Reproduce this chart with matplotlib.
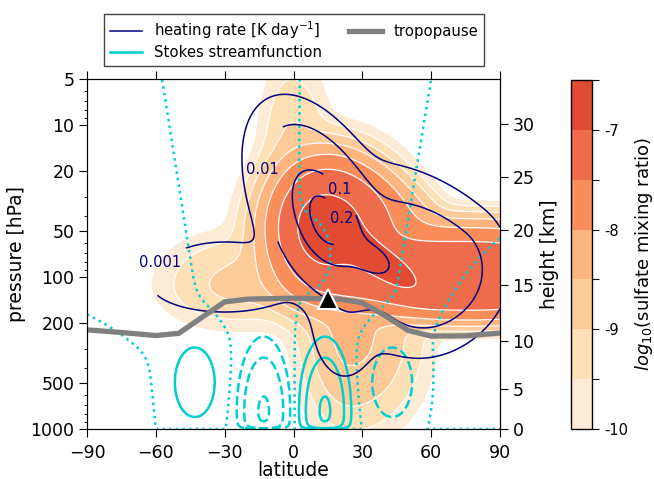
import numpy as np
import matplotlib
matplotlib.use("Agg")
import matplotlib.pyplot as plt
from matplotlib.lines import Line2D

# ---------------- axes / tick data ----------------
lat_ticks = [-90, -60, -30, 0, 30, 60, 90]
p_ticks = [5, 10, 20, 50, 100, 200, 500, 1000]
height_km = [0, 5, 10, 15, 20, 25, 30]
height_p = [1000, 546, 264, 113, 49, 22, 9.9]

# ---------------- sulfate (log10 mixing ratio) ----------------
sulfate_levels = [-10, -9.5, -9, -8.5, -8, -7.5, -7, -6.5]
sulfate_colors = ['#fdebd5', '#fde0b6', '#fdcb98', '#fdb47f', '#fa8e5b', '#ee6b4c', '#e14b34']
# blobs: centre lat, centre p [hPa], peak log10, widths (left,right,down,up) [eq. deg],
# rotation [deg], shape exponent
sulf_lat = [35.5, 13.7, 18.1, 77.0, -0.6, -25.5, 25.0]
sulf_p = [75, 50, 33.7, 108, 12.6, 113, 250]
sulf_peak = [-6.8, -6.8, -7.6, -7.15, -9.0, -8.9, -8.4]
sulf_wl = [12.0, 11.0, 16.0, 43.6, 7.0, 16.0, 10.0]
sulf_wr = [12.0, 13.0, 30.0, 43.6, 8.0, 15.0, 14.0]
sulf_wd = [4.0, 13.0, 16.0, 10.5, 17.4, 9.0, 18.0]
sulf_wu = [4.0, 13.0, 14.0, 15.0, 17.4, 10.9, 10.0]
sulf_rot = [-35, 0, -25, 0, 0, 0, 0]
sulf_q = [2, 2, 3, 3, 2, 2, 2]

# ---------------- heating rate [K/day] ----------------
heating_levels = [0.001, 0.01, 0.1, 0.2]
heat_lat = [14.6, 35.0, 60.0, -30.0, 22.4]
heat_p = [43.6, 78, 95, 110, 193]
heat_peak = [0.25, 0.11, 0.05, 0.005, 0.005]
heat_wl = [9.0, 7.0, 22.0, 18.0, 7.8]
heat_wr = [9.0, 7.0, 12.0, 18.0, 7.8]
heat_wd = [14.5, 4.5, 14.0, 7.0, 13.5]
heat_wu = [18.0, 4.5, 13.0, 10.0, 8.7]
heat_rot = [25, -35, -40, 0, 0]
heat_q = [2, 2, 2, 2, 2]
heat_label_lat = [-57, -14.6, 20.3, 20.3]
heat_label_p = [96, 17, 22.4, 49]

# ---------------- Stokes streamfunction ----------------
stokes_neg_levels = [-16, -4, -1]
stokes_zero_levels = [0]
stokes_pos_levels = [1, 4, 16]
cell_lat = [-43, -13, 13.7, 43, -90, 90, -80, -25, 30, 80, 10]
cell_p = [494, 767, 767, 494, 620, 500, 14.4, 14.4, 14.4, 14.4, 65]
cell_amp = [2.5, -18, 18, -2.5, -0.5, 0.8, 0.4, -0.4, 0.4, -0.4, -0.25]
cell_wlat = [6.4, 4.9, 4.8, 6.4, 12.7, 12.7, 15.6, 15.6, 15.6, 15.6, 6.0]
cell_wz = [11.2, 13.5, 13.5, 11.2, 12.0, 30.0, 37.7, 37.7, 37.7, 37.7, 10.0]
cell_stretch = [0, 0, 0, 0, 0, 0, 0.003, 0.003, 0.003, 0.003, 0]

# ---------------- tropopause & eruption ----------------
trop_lat = [-90, -75, -60, -50, -40, -30, -20, 0, 20, 30, 40, 50, 60, 75, 90]
trop_p = [223, 232, 243, 235, 185, 146, 140, 138, 140, 148, 180, 225, 245, 244, 234]
erupt_lat = [15.1]
erupt_p = [140]

# ---------------- grid ----------------
EQ = (350.0 / 413.0) * 180.0 / np.log10(200.0)   # eq. degrees per decade of pressure
lat = np.linspace(-90, 90, 361)
p = np.logspace(np.log10(1000), np.log10(5), 300)
LAT, P = np.meshgrid(lat, p)
Z = EQ * np.log10(1000.0 / P)


def zc(pp):
    return EQ * np.log10(1000.0 / pp)


def blob(la, pp, wl, wr, wd, wu, rot=0, q=2, stretch=0.0):
    a = np.deg2rad(rot)
    latx = LAT / (1.0 + stretch * (Z - zc(pp)))
    dx = latx - la
    dz = Z - zc(pp)
    u = dx * np.cos(a) + dz * np.sin(a)
    w = -dx * np.sin(a) + dz * np.cos(a)
    su = np.where(u >= 0, wr, wl)
    sw = np.where(w >= 0, wu, wd)
    r2 = (u / su) ** 2 + (w / sw) ** 2
    return np.exp(-0.5 * r2 ** (q / 2.0))


sulf_lin = np.zeros_like(LAT)
for i in range(len(sulf_lat)):
    sulf_lin += 10.0 ** sulf_peak[i] * blob(sulf_lat[i], sulf_p[i], sulf_wl[i], sulf_wr[i],
                                          sulf_wd[i], sulf_wu[i], sulf_rot[i], sulf_q[i])
sulfate = np.minimum(np.log10(sulf_lin + 1e-14), -6.51)

heat = np.zeros_like(LAT)
for i in range(len(heat_lat)):
    heat += heat_peak[i] * blob(heat_lat[i], heat_p[i], heat_wl[i], heat_wr[i],
                                heat_wd[i], heat_wu[i], heat_rot[i], heat_q[i])

psi = np.zeros_like(LAT)
for i in range(len(cell_lat)):
    psi += cell_amp[i] * blob(cell_lat[i], cell_p[i], cell_wlat[i], cell_wlat[i],
                              cell_wz[i], cell_wz[i], 0, 2, cell_stretch[i])
psi *= 1 - np.exp(-Z / (0.008 * EQ * np.log10(200)))

# ---------------- figure ----------------
fig = plt.figure(figsize=(6.54, 4.79), dpi=100)
ax = fig.add_axes([87 / 654, 50 / 479, 413 / 654, 350 / 479])
cax = fig.add_axes([571 / 654, 50 / 479, 21 / 654, 349 / 479])

cf = ax.contourf(LAT, P, sulfate, levels=sulfate_levels, colors=sulfate_colors, zorder=1)
ax.contour(LAT, P, sulfate, levels=sulfate_levels[1:-1], colors='white', linewidths=0.9,
           linestyles='solid', zorder=2)

kw = dict(colors='darkturquoise', linewidths=1.8, zorder=3)
ax.contour(LAT, P, psi, levels=stokes_neg_levels, linestyles='dashed', **kw)
ax.contour(LAT, P, psi, levels=stokes_zero_levels, linestyles='dotted', **kw)
ax.contour(LAT, P, psi, levels=stokes_pos_levels, linestyles='solid', **kw)

hc = ax.contour(LAT, P, heat, levels=heating_levels, colors='navy', linewidths=1.1,
                linestyles='solid', zorder=4)
htexts = ax.clabel(hc, fmt='%g', fontsize=10.5, inline=True,
                   manual=list(zip(heat_label_lat, heat_label_p)))
for t in htexts:
    t.set_rotation(0)

ax.plot(trop_lat, trop_p, color='gray', lw=3.8, zorder=5, solid_capstyle='butt')
ax.plot(erupt_lat, erupt_p, marker='^', ms=15, color='black', mec='white', mew=1.5,
        ls='none', zorder=6)

ax.set_yscale('log')
ax.set_ylim(1000, 5)
ax.set_xlim(-90, 90)
ax.set_xticks(lat_ticks)
ax.set_yticks(p_ticks)
ax.set_yticklabels([str(v) for v in p_ticks])
ax.tick_params(axis='both', which='major', labelsize=12.5, direction='out', length=5.5)
ax.tick_params(axis='x', top=True, pad=5.5)
ax.set_xlabel('latitude', fontsize=13.5)
ax.xaxis.set_label_coords(0.5, -0.092)
ax.set_ylabel('pressure [hPa]', fontsize=13.5, labelpad=3)

ax2 = ax.twinx()
ax2.set_yscale('log')
ax2.set_ylim(1000, 5)
ax2.set_yticks(height_p)
ax2.set_yticklabels([str(v) for v in height_km])
ax2.yaxis.set_minor_locator(matplotlib.ticker.NullLocator())
ax2.tick_params(axis='y', labelsize=12.5, direction='out', length=5.5)
ax2.set_ylabel('height [km]', fontsize=13.5)

cb = fig.colorbar(cf, cax=cax)
cb.set_ticks(sulfate_levels)
cb.set_ticklabels(['-10', '', '-9', '', '-8', '', '-7', ''])
cb.ax.tick_params(labelsize=10.5, length=5)
cb.set_label(r'$log_{10}$(sulfate mixing ratio)', fontsize=13)
cb.outline.set_linewidth(1.0)

handles = [Line2D([], [], color='navy', lw=1.1),
           Line2D([], [], color='darkturquoise', lw=1.8),
           Line2D([], [], color='gray', lw=3.8)]
labels = [r'heating rate [K day$^{-1}$]', 'Stokes streamfunction', 'tropopause']
leg = fig.legend(handles, labels,
                 ncol=2, loc='lower center', bbox_to_anchor=(294 / 654, (479 - 73) / 479),
                 fontsize=10.7, fancybox=False, edgecolor='#444444', framealpha=1,
                 borderpad=0.35, labelspacing=0.3, handlelength=2.2, columnspacing=1.8)
leg.get_frame().set_linewidth(1.0)

fig.savefig('out.png', dpi=100)
